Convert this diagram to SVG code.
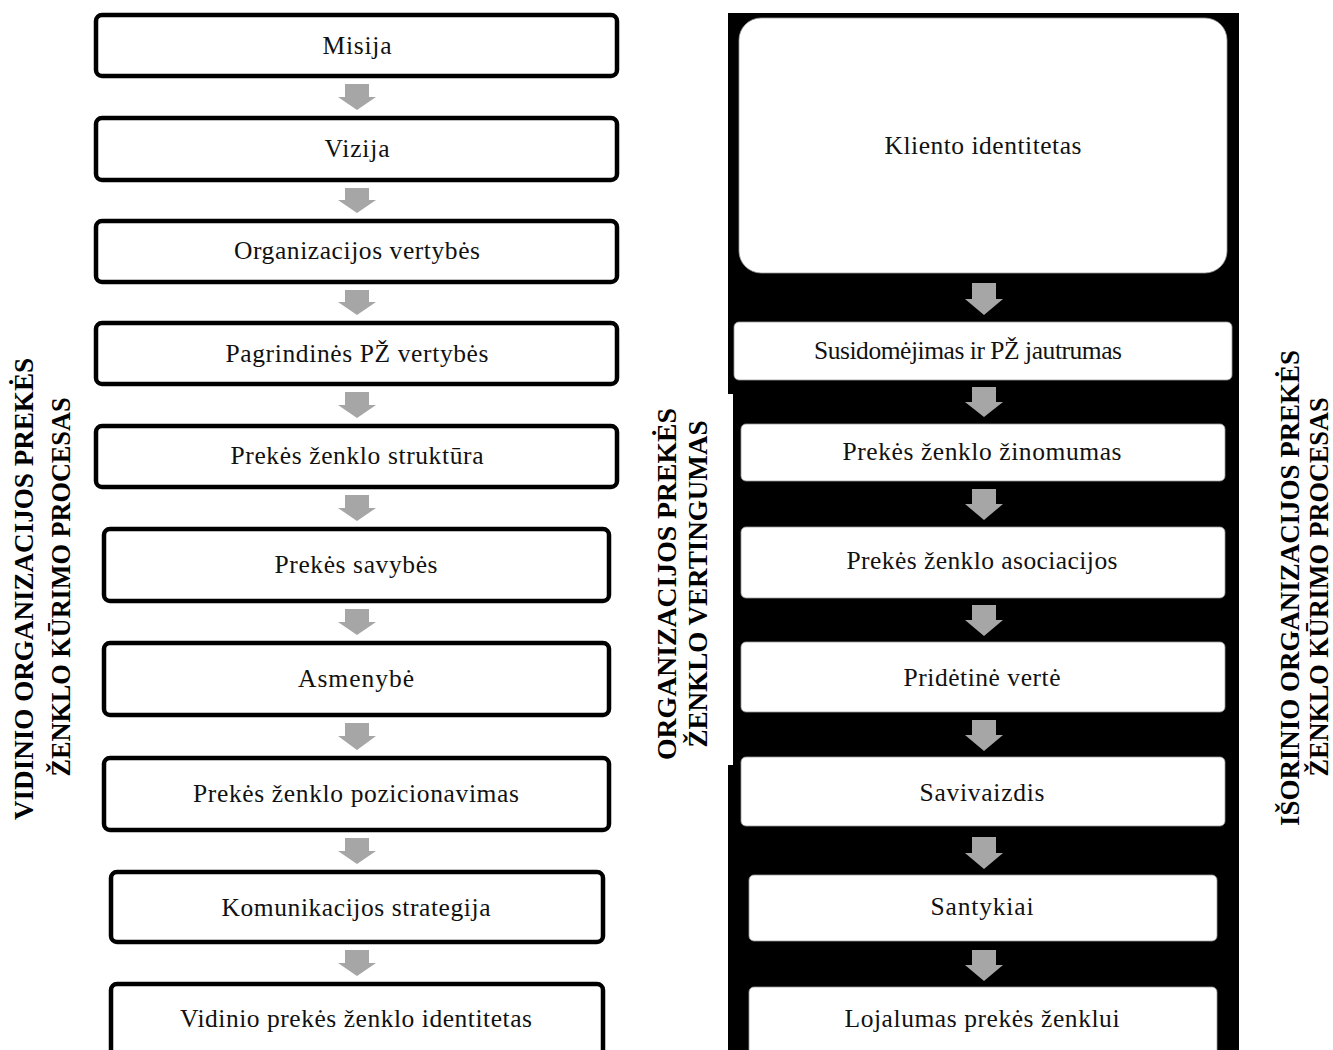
<svg xmlns="http://www.w3.org/2000/svg" width="1333" height="1050" viewBox="0 0 1333 1050">
  <style>
    .box { fill: #ffffff; stroke: #000000; stroke-width: 4.5; }
    .wbox { fill: #ffffff; stroke: #9a9a9a; stroke-width: 0.8; }
    .t { font-family: "Liberation Serif", "Times New Roman", serif; font-size: 25.5px; fill: #111111; text-anchor: middle; }
    .v { font-family: "Liberation Serif", "Times New Roman", serif; font-size: 27px; font-weight: bold; fill: #000000; text-anchor: middle; }
    .arr { fill: #a6a6a6; }
  </style>

  <rect x="0" y="0" width="1333" height="1050" fill="#ffffff"/>

  <!-- black backdrop behind the external process column -->
  <path id="panel" d="M728,13 H1239 V1050 H728 V765 H733 V394 H728 Z" fill="#000000"/>

  <!-- internal process column -->
  <g id="n-misija"><rect class="box" x="96" y="15" width="521" height="61" rx="6"/><text class="t" x="357" y="54" textLength="69" lengthAdjust="spacing">Misija</text></g>
  <g id="n-vizija"><rect class="box" x="96" y="118" width="521" height="62" rx="6"/><text class="t" x="357" y="157" textLength="65" lengthAdjust="spacing">Vizija</text></g>
  <g id="n-org-vertybes"><rect class="box" x="96" y="221" width="521" height="61" rx="6"/><text class="t" x="357" y="259" textLength="246" lengthAdjust="spacing">Organizacijos vertybės</text></g>
  <g id="n-pz-vertybes"><rect class="box" x="96" y="323" width="521" height="61" rx="6"/><text class="t" x="357" y="362" textLength="263" lengthAdjust="spacing">Pagrindinės PŽ vertybės</text></g>
  <g id="n-struktura"><rect class="box" x="96" y="426" width="521" height="61" rx="6"/><text class="t" x="357" y="464" textLength="253" lengthAdjust="spacing">Prekės ženklo struktūra</text></g>
  <g id="n-savybes"><rect class="box" x="104" y="529" width="505" height="72" rx="6"/><text class="t" x="356" y="573" textLength="163" lengthAdjust="spacing">Prekės savybės</text></g>
  <g id="n-asmenybe"><rect class="box" x="104" y="643" width="505" height="72" rx="6"/><text class="t" x="356" y="687" textLength="116" lengthAdjust="spacing">Asmenybė</text></g>
  <g id="n-pozicionavimas"><rect class="box" x="104" y="758" width="505" height="72" rx="6"/><text class="t" x="356" y="802" textLength="326" lengthAdjust="spacing">Prekės ženklo pozicionavimas</text></g>
  <g id="n-komunikacija"><rect class="box" x="111" y="872" width="492" height="70" rx="6"/><text class="t" x="356" y="916" textLength="269" lengthAdjust="spacing">Komunikacijos strategija</text></g>
  <g id="n-vidinis-identitetas"><rect class="box" x="111" y="984" width="492" height="80" rx="6"/><text class="t" x="356" y="1027" textLength="352" lengthAdjust="spacing">Vidinio prekės ženklo identitetas</text></g>

  <!-- external process column -->
  <g id="n-kliento-identitetas"><rect class="wbox" x="739" y="18" width="488" height="255" rx="22"/><text class="t" x="983" y="154" textLength="197" lengthAdjust="spacing">Kliento identitetas</text></g>
  <g id="n-susidomejimas"><rect class="wbox" x="734" y="322" width="498" height="58" rx="5"/><text class="t" x="968" y="359" textLength="308" lengthAdjust="spacing">Susidomėjimas ir PŽ jautrumas</text></g>
  <g id="n-zinomumas"><rect class="wbox" x="741" y="424" width="484" height="57" rx="5"/><text class="t" x="982" y="460" textLength="279" lengthAdjust="spacing">Prekės ženklo žinomumas</text></g>
  <g id="n-asociacijos"><rect class="wbox" x="741" y="527" width="484" height="71" rx="5"/><text class="t" x="982" y="569" textLength="271" lengthAdjust="spacing">Prekės ženklo asociacijos</text></g>
  <g id="n-pridetine-verte"><rect class="wbox" x="741" y="642" width="484" height="70" rx="5"/><text class="t" x="982" y="686" textLength="157" lengthAdjust="spacing">Pridėtinė vertė</text></g>
  <g id="n-savivaizdis"><rect class="wbox" x="741" y="757" width="484" height="69" rx="5"/><text class="t" x="982" y="801" textLength="125" lengthAdjust="spacing">Savivaizdis</text></g>
  <g id="n-santykiai"><rect class="wbox" x="749" y="875" width="468" height="66" rx="5"/><text class="t" x="982" y="915" textLength="103" lengthAdjust="spacing">Santykiai</text></g>
  <g id="n-lojalumas"><rect class="wbox" x="749" y="987" width="468" height="75" rx="5"/><text class="t" x="982" y="1027" textLength="275" lengthAdjust="spacing">Lojalumas prekės ženklui</text></g>

  <!-- block arrows between consecutive steps -->
  <g id="connectors">
    <path class="arr" d="M345,84 H369 V97 H376 L357,110 L338,97 H345 Z"/>
    <path class="arr" d="M345,188 H369 V200 H376 L357,213 L338,200 H345 Z"/>
    <path class="arr" d="M345,290 H369 V302 H376 L357,315 L338,302 H345 Z"/>
    <path class="arr" d="M345,392 H369 V405 H376 L357,418 L338,405 H345 Z"/>
    <path class="arr" d="M345,495 H369 V508 H376 L357,521 L338,508 H345 Z"/>
    <path class="arr" d="M345,609 H369 V622 H376 L357,635 L338,622 H345 Z"/>
    <path class="arr" d="M345,723 H369 V736 H376 L357,750 L338,736 H345 Z"/>
    <path class="arr" d="M345,838 H369 V851 H376 L357,864 L338,851 H345 Z"/>
    <path class="arr" d="M345,950 H369 V963 H376 L357,976 L338,963 H345 Z"/>

    <path class="arr" d="M972,283 H996 V299 H1003 L984,315 L965,299 H972 Z"/>
    <path class="arr" d="M972,387 H996 V402 H1003 L984,417 L965,402 H972 Z"/>
    <path class="arr" d="M972,489 H996 V504 H1003 L984,520 L965,504 H972 Z"/>
    <path class="arr" d="M972,605 H996 V620 H1003 L984,636 L965,620 H972 Z"/>
    <path class="arr" d="M972,720 H996 V735 H1003 L984,751 L965,735 H972 Z"/>
    <path class="arr" d="M972,837 H996 V853 H1003 L984,869 L965,853 H972 Z"/>
    <path class="arr" d="M972,950 H996 V965 H1003 L984,981 L965,965 H972 Z"/>
  </g>

  <!-- vertical captions -->
  <g id="label-vidinis">
    <text class="v" transform="translate(24,589) rotate(-90)" x="0" y="9" textLength="462" lengthAdjust="spacingAndGlyphs">VIDINIO ORGANIZACIJOS PREKĖS</text>
    <text class="v" transform="translate(61,587) rotate(-90)" x="0" y="9" textLength="379" lengthAdjust="spacingAndGlyphs">ŽENKLO KŪRIMO PROCESAS</text>
  </g>
  <g id="label-vertingumas">
    <text class="v" transform="translate(667,584) rotate(-90)" x="0" y="9" textLength="352" lengthAdjust="spacingAndGlyphs">ORGANIZACIJOS PREKĖS</text>
    <text class="v" transform="translate(698,584) rotate(-90)" x="0" y="9" textLength="327" lengthAdjust="spacingAndGlyphs">ŽENKLO VERTINGUMAS</text>
  </g>
  <g id="label-isorinis">
    <text class="v" transform="translate(1290,588) rotate(-90)" x="0" y="9" textLength="476" lengthAdjust="spacingAndGlyphs">IŠORINIO ORGANIZACIJOS PREKĖS</text>
    <text class="v" transform="translate(1319,587) rotate(-90)" x="0" y="9" textLength="379" lengthAdjust="spacingAndGlyphs">ŽENKLO KŪRIMO PROCESAS</text>
  </g>
</svg>
